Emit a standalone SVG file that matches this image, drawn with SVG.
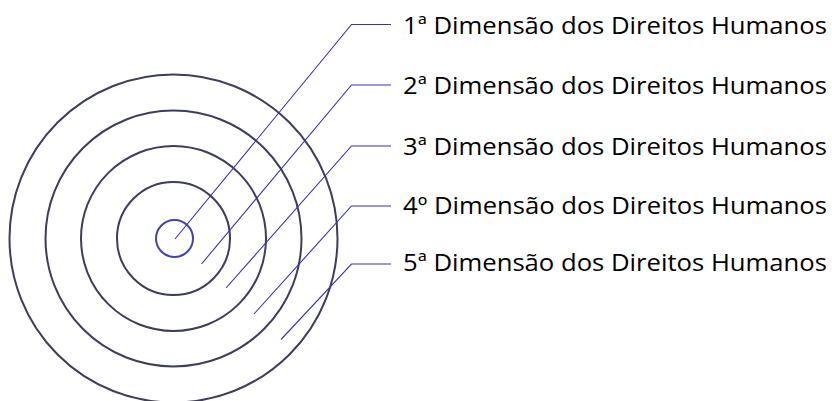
<svg xmlns="http://www.w3.org/2000/svg" width="832" height="401" viewBox="0 0 832 401">
<style>
.ring{fill:none;stroke:#3d3d5c;stroke-width:2}
.core{fill:none;stroke:#4343a8;stroke-width:2}
.lead{fill:none;stroke:#3a30b8;stroke-width:1.1}
.lbl{font-family:"Open Sans","Liberation Sans",sans-serif;font-size:24px;fill:#000}
</style>
<rect width="832" height="401" fill="#fff"/>
<g id="ring5"><circle class="ring" cx="173.5" cy="238.5" r="164"/></g>
<g id="ring4"><circle class="ring" cx="173.5" cy="238.5" r="128"/></g>
<g id="ring3"><circle class="ring" cx="173.5" cy="238.5" r="92.5"/></g>
<g id="ring2"><circle class="ring" cx="173.5" cy="238.5" r="56.5"/></g>
<g id="ring1"><circle class="core" cx="174.5" cy="238.5" r="18.5"/></g>
<g id="connectors">
<polyline class="lead" points="175,239 351.5,24.5 391,24.5"/>
<polyline class="lead" points="201.5,264 351.5,85 391,85"/>
<polyline class="lead" points="226,288 351.5,146 391,146"/>
<polyline class="lead" points="254,314 351.5,206 391,206"/>
<polyline class="lead" points="281,339.5 351.5,264 391,264"/>
</g>
<g id="label1"><text class="lbl" x="403" y="33.5" textLength="424" lengthAdjust="spacingAndGlyphs">1ª Dimensão dos Direitos Humanos</text></g>
<g id="label2"><text class="lbl" x="403" y="94" textLength="424" lengthAdjust="spacingAndGlyphs">2ª Dimensão dos Direitos Humanos</text></g>
<g id="label3"><text class="lbl" x="403" y="155" textLength="424" lengthAdjust="spacingAndGlyphs">3ª Dimensão dos Direitos Humanos</text></g>
<g id="label4"><text class="lbl" x="403" y="213.5" textLength="424" lengthAdjust="spacingAndGlyphs">4º Dimensão dos Direitos Humanos</text></g>
<g id="label5"><text class="lbl" x="403" y="271" textLength="424" lengthAdjust="spacingAndGlyphs">5ª Dimensão dos Direitos Humanos</text></g>
</svg>
